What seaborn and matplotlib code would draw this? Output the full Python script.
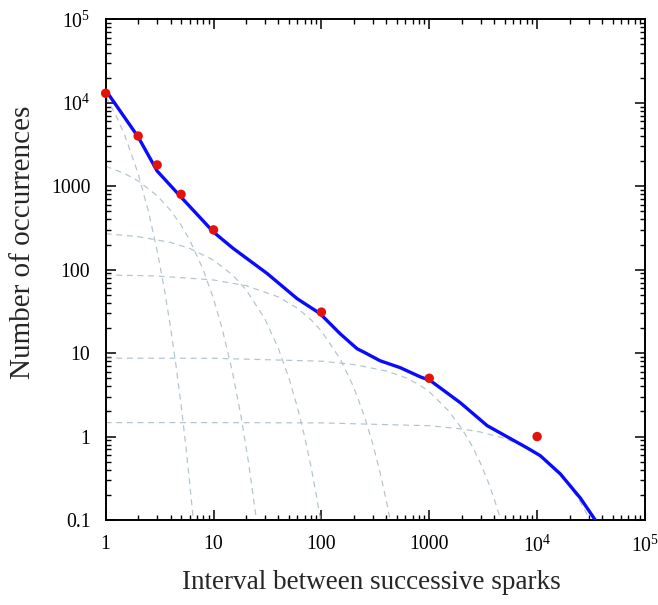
import numpy as np
import pandas as pd
import matplotlib
matplotlib.use("Agg")
import matplotlib.pyplot as plt
import seaborn as sns
from matplotlib.ticker import LogLocator, FixedLocator, FixedFormatter, NullFormatter

# ---- data ----
obs_interval = [1, 2, 3, 5, 10, 100, 1000, 10000]
obs_count = [13000, 4000, 1800, 800, 300, 31, 5, 1]

fit_t = [1, 2, 3, 5, 10, 15.2, 31.4, 59.5, 97, 149, 214, 254, 350, 537, 824, 1020,
         1936, 3446, 8100, 10700, 16400, 25100, 34600, 40000]
fit_v = [14150, 3900, 1523, 741, 282, 180, 90, 45, 29.8, 17.1, 11.3, 10.1, 8.1, 6.7,
         5.2, 4.7, 2.55, 1.35, 0.73, 0.59, 0.357, 0.184, 0.1, 0.07]

comp1_t = [1, 1.25, 1.5, 2, 2.5, 3, 3.5, 4, 4.5, 5, 5.5, 6, 6.5, 7]
comp1_v = [11910, 6990, 4110, 1420, 490, 169, 58.4, 20.1, 6.95, 2.40, 0.829, 0.284, 0.0985, 0.034]

comp2_t = [1, 1.5, 2, 3, 4, 5, 6, 8, 10, 12, 15, 18, 21, 25, 28]
comp2_v = [1738, 1418, 1158, 771, 513, 342, 228, 101, 44.8, 19.9, 5.87, 1.73, 0.511, 0.1007, 0.0298]

comp3_t = [1, 2, 4, 6, 10, 15, 20, 30, 40, 50, 60, 70, 80, 90, 100, 110]
comp3_v = [270, 249, 212, 180, 130, 86.5, 57.6, 25.6, 11.3, 5.03, 2.23, 0.989, 0.439, 0.195, 0.0862, 0.0383]

comp4_t = [1, 3, 10, 20, 40, 60, 80, 100, 150, 200, 250, 300, 350, 400, 450, 500]
comp4_v = [86.6, 84.0, 75.3, 64.4, 47.1, 34.5, 25.2, 18.4, 8.44, 3.87, 1.77, 0.811, 0.371, 0.170, 0.0779, 0.0357]

comp5_t = [1, 10, 100, 200, 400, 600, 800, 1000, 1500, 2000, 2500, 3000, 3500, 4000, 4500, 5000, 5500]
comp5_v = [8.7, 8.67, 8.0, 7.3, 6.1, 5.1, 4.2, 3.45, 2.05, 1.25, 0.768, 0.473, 0.291, 0.179, 0.110, 0.0679, 0.0418]

comp6_t = [1, 10, 100, 1000, 2000, 3000, 5000, 7000, 10000, 13000, 16000, 20000, 25000, 30000, 35000, 40000]
comp6_v = [1.47, 1.47, 1.458, 1.348, 1.235, 1.132, 0.952, 0.800, 0.616, 0.475, 0.366, 0.258, 0.167, 0.108, 0.070, 0.045]

x_ticks = [1, 10, 100, 1000, 1e4, 1e5]
x_labels = ["1", "10", "100", "1000", r"$\mathregular{10^4}$", r"$\mathregular{10^5}$"]
y_ticks = [0.1, 1, 10, 100, 1000, 1e4, 1e5]
y_labels = ["0.1", "1", "10", "100", "1000", r"$\mathregular{10^4}$", r"$\mathregular{10^5}$"]

# ---- styling ----
sns.set_style("ticks")
plt.rcParams["font.family"] = ["Liberation Serif", "DejaVu Serif"]
plt.rcParams["mathtext.fontset"] = "custom"
plt.rcParams["mathtext.rm"] = "Liberation Serif"

fig = plt.figure(figsize=(6.58, 6.05), dpi=100)
ax = fig.add_axes([0.1606, 0.1405, 0.8196, 0.8275])

comps = [(comp1_t, comp1_v), (comp2_t, comp2_v), (comp3_t, comp3_v),
         (comp4_t, comp4_v), (comp5_t, comp5_v), (comp6_t, comp6_v)]
for t, v in comps:
    df = pd.DataFrame({"t": t, "v": v})
    sns.lineplot(data=df, x="t", y="v", ax=ax, color="#b0c3cc", lw=0.85,
                 sort=False, estimator=None, zorder=1)
    ax.lines[-1].set_dashes([5, 4])

fit_df = pd.DataFrame({"t": fit_t, "v": fit_v})
sns.lineplot(data=fit_df, x="t", y="v", ax=ax, color="#0a0aff", lw=2.4,
             sort=False, estimator=None, zorder=3)

obs_df = pd.DataFrame({"t": obs_interval, "v": obs_count})
sns.scatterplot(data=obs_df, x="t", y="v", ax=ax, color="#e3120b", s=46,
                edgecolor="none", zorder=4, clip_on=False)

ax.set_xscale("log")
ax.set_yscale("log")
ax.set_xlim(1, 1e5)
ax.set_ylim(0.1, 1e5)

ax.xaxis.set_major_locator(FixedLocator(x_ticks))
ax.xaxis.set_major_formatter(FixedFormatter(x_labels))
ax.yaxis.set_major_locator(FixedLocator(y_ticks))
ax.yaxis.set_major_formatter(FixedFormatter(y_labels))
ax.xaxis.set_minor_locator(LogLocator(base=10, subs=np.arange(2, 10), numticks=20))
ax.yaxis.set_minor_locator(LogLocator(base=10, subs=np.arange(2, 10), numticks=20))
ax.xaxis.set_minor_formatter(NullFormatter())
ax.yaxis.set_minor_formatter(NullFormatter())

ax.tick_params(which="both", direction="in", top=True, right=True, colors="black")
ax.tick_params(which="major", length=7, width=1.1, labelsize=14.2, pad=11)
ax.tick_params(which="minor", length=3.5, width=1.0)
for s in ax.spines.values():
    s.set_linewidth(1.4)
    s.set_color("black")

ax.set_xlabel("Interval between successive sparks", fontsize=19.5)
ax.set_ylabel("Number of occurrences", fontsize=21)
ax.xaxis.set_label_coords(0.493, -0.10)
ax.yaxis.set_label_coords(-0.13, 0.555)

fig.savefig("out.png", dpi=100)
